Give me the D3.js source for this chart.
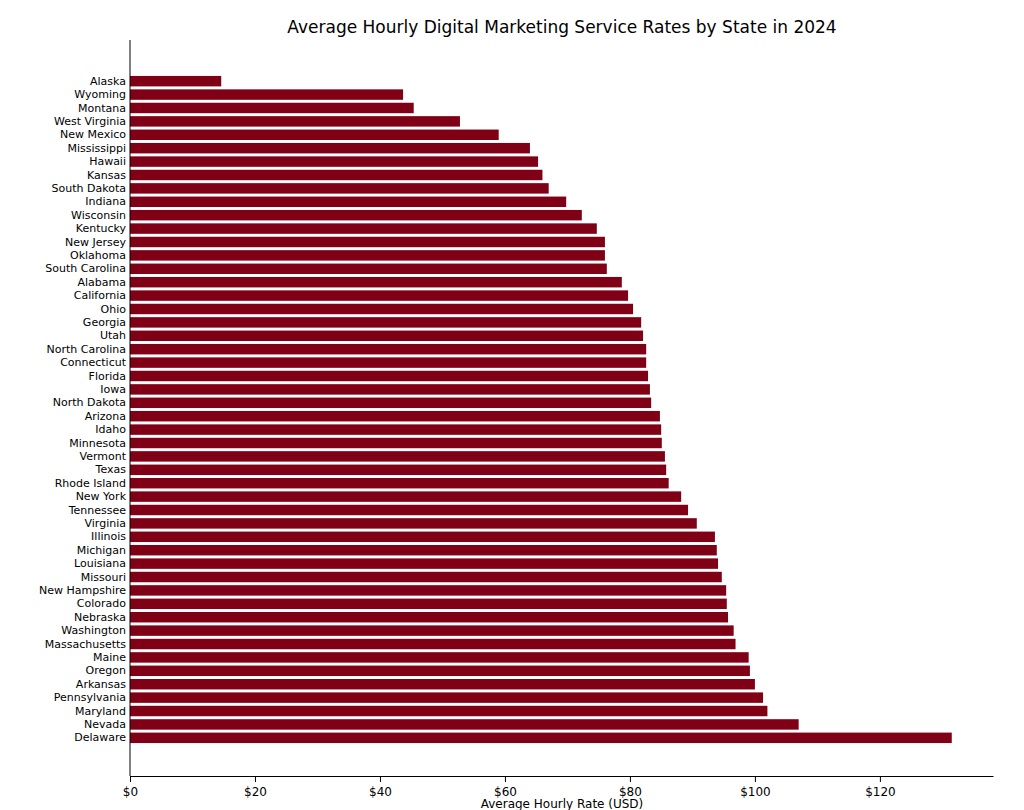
<!DOCTYPE html>
<html><head><meta charset="utf-8">
<script src="https://cdn.jsdelivr.net/npm/d3@7"></script>
<style>body{margin:0;background:#fff;font-family:"DejaVu Sans",sans-serif;}</style>
</head><body><div id="chart"></div>
<script>
// Data
const states = ["Alaska","Wyoming","Montana","West Virginia","New Mexico","Mississippi","Hawaii","Kansas","South Dakota","Indiana","Wisconsin","Kentucky","New Jersey","Oklahoma","South Carolina","Alabama","California","Ohio","Georgia","Utah","North Carolina","Connecticut","Florida","Iowa","North Dakota","Arizona","Idaho","Minnesota","Vermont","Texas","Rhode Island","New York","Tennessee","Virginia","Illinois","Michigan","Louisiana","Missouri","New Hampshire","Colorado","Nebraska","Washington","Massachusetts","Maine","Oregon","Arkansas","Pennsylvania","Maryland","Nevada","Delaware"];
const rates = [14.6,43.7,45.4,52.8,59,64,65.3,66,67,69.8,72.3,74.7,76,76,76.3,78.7,79.7,80.5,81.8,82.1,82.6,82.6,82.9,83.2,83.4,84.8,85,85.1,85.6,85.8,86.2,88.2,89.3,90.7,93.6,93.9,94.1,94.7,95.4,95.5,95.7,96.6,96.9,99,99.2,100,101.3,102,107,131.5];
const xTicks = [0,20,40,60,80,100,120];

const width = 1024, height = 810;
const mLeft = 130, mRight = 993, mTop = 40, mBottom = 776;

const svg = d3.select("#chart").append("svg")
    .attr("width", width).attr("height", height);

const x = d3.scaleLinear().domain([0, 138.1]).range([mLeft, mRight]);
const y = d3.scaleBand().domain(states).range([73, 746]).padding(0.22);

// Bars
svg.selectAll("rect").data(states).enter().append("rect")
    .attr("x", x(0))
    .attr("y", d => y(d))
    .attr("width", (d, i) => x(rates[i]) - x(0))
    .attr("height", y.bandwidth())
    .attr("fill", "#800015");

// Axes
svg.append("g").attr("transform", `translate(0,${mBottom})`)
    .call(d3.axisBottom(x).tickValues(xTicks).tickFormat(d => "$" + d).tickSizeOuter(0))
    .call(g => g.selectAll("text").attr("font-size", 12).attr("font-family", "DejaVu Sans").attr("dy", "0.9em"));

svg.append("g").attr("transform", `translate(${mLeft},0)`)
    .call(d3.axisLeft(y).tickSize(0).tickPadding(4))
    .call(g => g.select(".domain").remove())
    .call(g => g.selectAll("text").attr("font-size", 11).attr("font-family", "DejaVu Sans"));

svg.append("line").attr("x1", mLeft).attr("x2", mLeft).attr("y1", mTop).attr("y2", mBottom).attr("stroke", "#000");

// Title and label
svg.append("text").attr("x", 562).attr("y", 33).attr("text-anchor", "middle")
    .attr("font-size", 17).text("Average Hourly Digital Marketing Service Rates by State in 2024");
svg.append("text").attr("x", 562).attr("y", 808).attr("text-anchor", "middle")
    .attr("font-size", 12).text("Average Hourly Rate (USD)");
</script></body></html>
